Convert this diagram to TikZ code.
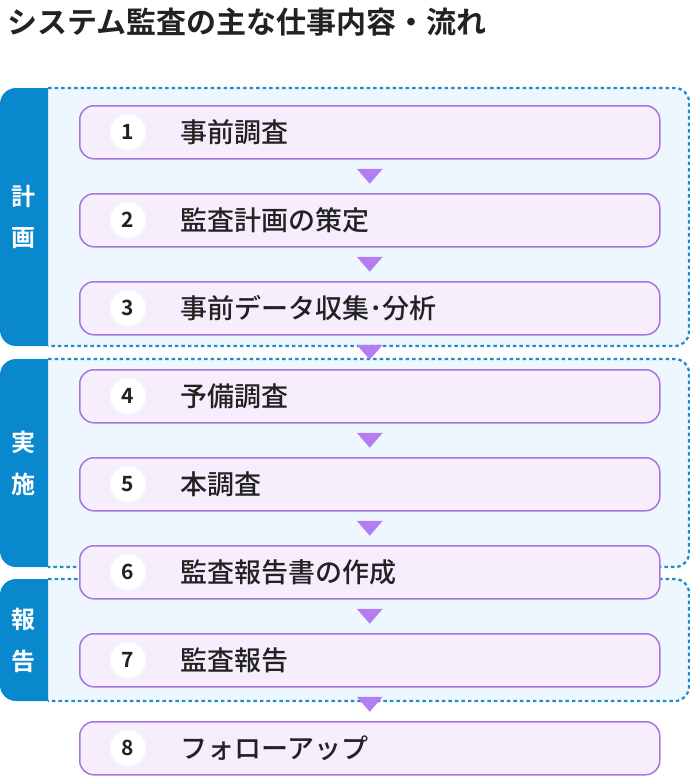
\documentclass[tikz,border=0pt]{standalone}
\usepackage{fontspec}
\setmainfont{Noto Sans CJK JP}[BoldFont={Noto Sans CJK JP Bold}]
\newfontfamily\medfont{Noto Sans CJK JP Medium}
\usetikzlibrary{calc}
\definecolor{bandblue}{HTML}{0A88CE}
\definecolor{dotblue}{HTML}{1E8CC8}
\definecolor{areafill}{HTML}{EEF7FE}
\definecolor{boxfill}{HTML}{F6EEFD}
\definecolor{boxline}{HTML}{A874DE}
\definecolor{arrowfill}{HTML}{B57DF2}
\definecolor{ink}{HTML}{222222}

\begin{document}
\begin{tikzpicture}[x=1pt,y=-1pt]
  \tikzset{
    stepbox/.style = {draw=boxline, fill=boxfill, line width=1.5pt, rounded corners=14pt,
                      minimum width=580pt, minimum height=53pt, inner sep=0pt, anchor=north west},
    numdot/.style  = {circle, fill=white, minimum size=36pt, inner sep=0pt, text=ink,
                      font=\fontsize{21}{26}\selectfont\bfseries},
    steptext/.style = {anchor=west, inner sep=0pt, text=ink, font=\fontsize{27}{32}\medfont},
    bandtext/.style = {inner sep=0pt, text=white, font=\fontsize{24}{28}\selectfont\bfseries},
    arealine/.style = {dotblue, line width=2.2pt, dash pattern=on 3.5pt off 3pt, rounded corners=14pt}
  }
  \useasboundingbox (0,0) rectangle (690,776);
  \node[anchor=west, inner sep=0pt, text=ink, font=\fontsize{30}{36}\selectfont\bfseries]
    (title) at (7,22) {システム監査の主な仕事内容・流れ};

  % stages
  \foreach \t/\b/\ca/\cb in {88/346/計/画, 359/567/実/施, 579/701/報/告} {
    \fill[areafill, rounded corners=14pt] (30,\t) rectangle (689,\b);
    \begin{scope}
      \clip (0,\t) rectangle (48,\b);
      \fill[bandblue, rounded corners=16pt] (0,\t) rectangle (80,\b);
    \end{scope}
    \draw[arealine] (48,\t) -- (689,\t) -- (689,\b) -- (48,\b);
    \node[bandtext] at (24,{(\t+\b)/2-21}) {\ca};
    \node[bandtext] at (24,{(\t+\b)/2+21}) {\cb};
  }

  % steps
  \foreach \i/\txt in {1/事前調査, 2/監査計画の策定, 3/事前データ収集･分析, 4/予備調査,
                       5/本調査, 6/監査報告書の作成, 7/監査報告, 8/フォローアップ} {
    \node[stepbox] (s\i) at (79,{105+88*(\i-1)}) {};
    \node[numdot] (n\i) at ($(s\i.west)+(49,0)$) {\i};
    \node[steptext] (t\i) at ($(s\i.west)+(101,0)$) {\txt};
  }

  % arrows
  \foreach \i in {1,...,7} {
    \pgfmathtruncatemacro\j{\i+1}
    \coordinate (m\i) at ($(s\i.south)!0.5!(s\j.north)$);
    \fill[arrowfill] ($(m\i)+(-13,-7.5)$) -- ($(m\i)+(13,-7.5)$) -- ($(m\i)+(0,7.5)$) -- cycle;
  }
\end{tikzpicture}
\end{document}
